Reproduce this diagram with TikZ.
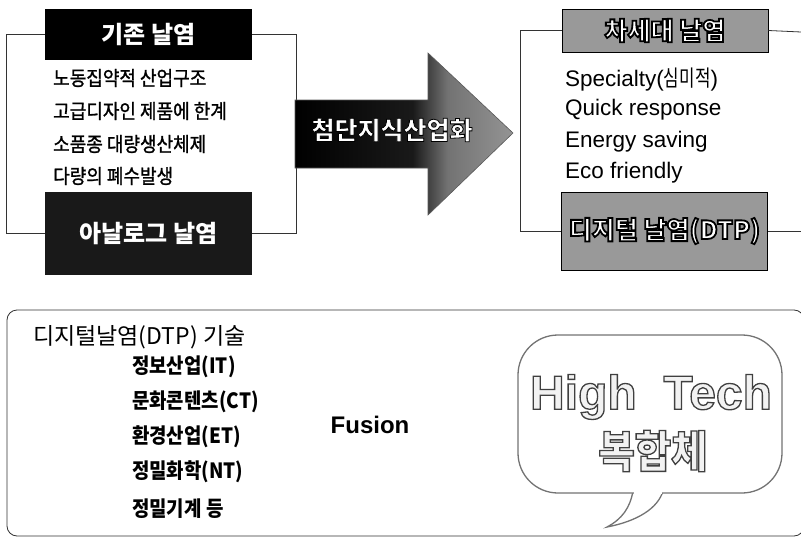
\documentclass[tikz,border=0pt]{standalone}
\usepackage{fontspec}
\setmainfont{Liberation Sans}
\newfontfamily\kr[FakeStretch=0.9]{Noto Sans CJK KR}
\newfontfamily\krm[FakeStretch=0.9, FakeBold=1.2]{Noto Sans CJK KR}
\newfontfamily\krw{Noto Sans CJK KR}
\newfontfamily\krn[FakeStretch=0.75]{Noto Sans CJK KR}
\newcommand\hollow[3]{\special{pdf:literal direct 2 Tr #1 w #2 G}#3\special{pdf:literal direct 0 Tr}}
\pgfdeclarehorizontalshading{arrsh}{100bp}{color(0bp)=(black); color(25bp)=(black); color(52bp)=(black!90); color(60bp)=(black!55); color(75bp)=(black!42); color(100bp)=(black!42)}
\begin{document}
\begin{tikzpicture}[x=1pt,y=-1pt,
  frame/.style={draw=black!80, line width=0.8pt},
  darkbox/.style={fill=black, inner sep=0, minimum width=207, text=white,
    font=\krw\bfseries\fontsize{24}{28}\selectfont},
  graybox/.style={fill=black!40, draw=black, line width=0.9pt, inner sep=0, minimum width=206,
    text=white, font=\krw\bfseries\fontsize{25}{28}\selectfont},
  listkr/.style={anchor=west, inner sep=0, font=\krm\fontsize{20}{24}\selectfont},
  listen/.style={anchor=west, inner sep=0, font=\fontsize{22.5}{26}\selectfont},
  itemkr/.style={anchor=west, inner sep=0, font=\kr\bfseries\fontsize{21}{24}\selectfont},
  bubbleline/.style={draw=black!55, line width=1.3pt}]
\useasboundingbox (0,0) rectangle (801,538);
\clip (0,0) rectangle (801,538);

% ---- left group
\node[darkbox, minimum height=51] (kijon) at (148.5,34.5) {기존 날염};
\node[darkbox, fill=black!90, minimum height=83] (analog) at (148.5,233.5) {아날로그 날염};
\draw[frame] (kijon.west) -- ++(-38,0) |- (analog.west);
\draw[frame] (kijon.east) -- ++(44,0) |- (analog.east);
\node[listkr] (l1) at (53,78) {노동집약적 산업구조};
\node[listkr] (l2) at (53,111) {고급디자인 제품에 한계};
\node[listkr] (l3) at (53,144) {소품종 대량생산체제};
\node[listkr] (l4) at (53,176) {다량의 폐수발생};

% ---- big arrow
\path[shading=arrsh, draw=black!65, line width=0.6pt]
  (295,100) -- (428,100) -- (428,53) -- (513,133) -- (428,215) -- (428,168) -- (295,168) -- cycle;
\node[inner sep=0, text=white, font=\krw\bfseries\fontsize{25}{28}\selectfont] (arrtext) at (392,130)
  {\hollow{0.8}{0}{첨단지식산업화}};

% ---- right group
\node[graybox, minimum height=43] (chase) at (665,30.5) {\hollow{1.8}{0}{차세대 날염}};
\node[graybox, minimum height=78] (dtp) at (664.5,231) {\hollow{1.8}{0}{디지털 날염(DTP)}};
\coordinate (rtop) at (801,32);
\coordinate (rbot) at (801,231);
\draw[frame] (chase.west) -- ++(-41,0) |- (dtp.west);
\draw[frame] (chase.east) -- (rtop);
\draw[frame] (dtp.east) -- (rbot);
\node[listen] (r1) at (565,80) {Specialty({\krn 심미적})};
\node[listen] (r2) at (565,110) {Quick response};
\node[listen] (r3) at (565,142) {Energy saving};
\node[listen] (r4) at (565,173) {Eco friendly};

% ---- bottom panel
\draw[frame, rounded corners=10] (7,310) rectangle (804,536);
\node[anchor=west, inner sep=0, font=\krw\fontsize{23}{26}\selectfont] (title) at (33,337) {디지털날염(DTP) 기술};
\node[itemkr] (i1) at (132,367) {정보산업(IT)};
\node[itemkr] (i2) at (132,402) {문화콘텐츠(CT)};
\node[itemkr] (i3) at (132,437) {환경산업(ET)};
\node[itemkr] (i4) at (132,472) {정밀화학(NT)};
\node[itemkr] (i5) at (132,509) {정밀기계 등};
\node[inner sep=0, font=\bfseries\fontsize{24}{28}\selectfont] (fusion) at (370,425) {Fusion};

% ---- speech bubble
\coordinate (tip) at (607,527);
\draw[bubbleline, fill=white] ([xshift=-17]650,491) .. controls (630,508) and (622,519) .. (tip)
  .. controls (638,521) and (658,508) .. ([xshift=13]650,491);
\node[bubbleline, fill=white, rounded corners=40, minimum width=264, minimum height=158, inner sep=0] (bubble) at (650,414) {};
\draw[white, line width=2pt] (634,493) -- (662,493);
\node[inner sep=0, text=black!5, font=\bfseries\fontsize{48}{56}\selectfont] (ht) at (651,397) {\hollow{1.3}{0.25}{High\ \ Tech}};
\node[inner sep=0, text=black!5, font=\kr\bfseries\fontsize{44}{48}\selectfont] (bh) at (653,451) {\hollow{1.3}{0.25}{복합체}};
\end{tikzpicture}
\end{document}
